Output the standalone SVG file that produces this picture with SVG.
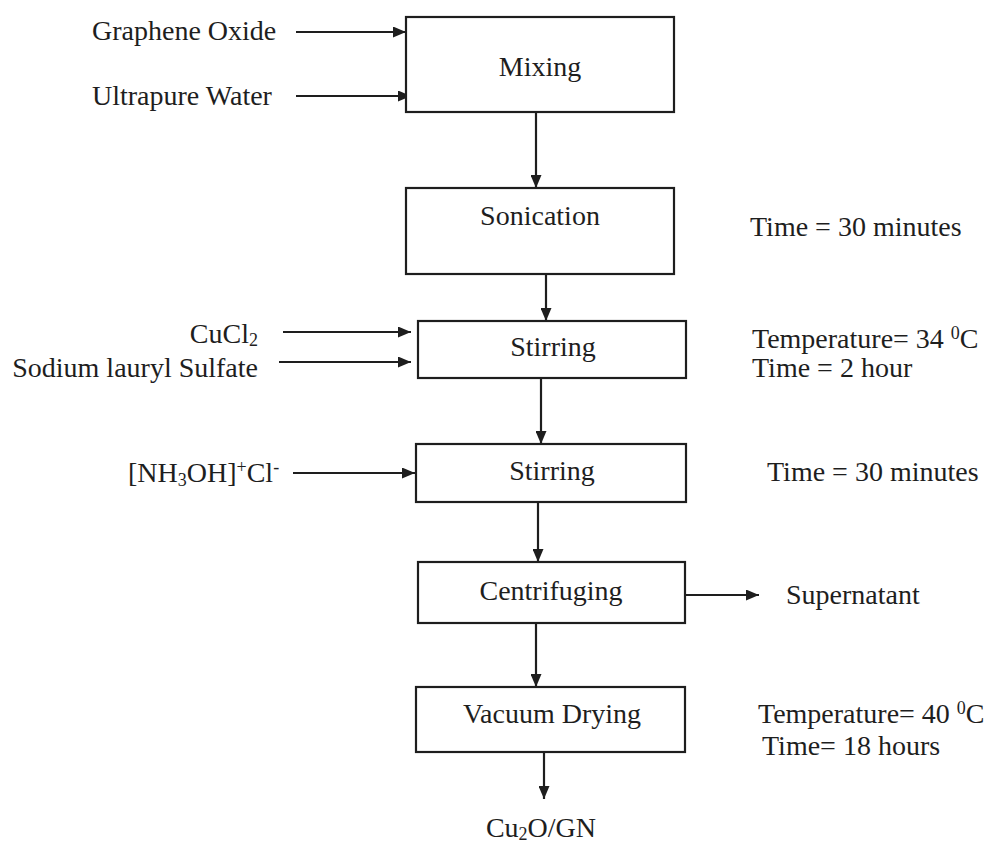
<svg xmlns="http://www.w3.org/2000/svg" width="984" height="846" viewBox="0 0 984 846">
<style>
text{font-family:"Liberation Serif","Times New Roman",serif;font-size:28px;fill:#1e1e1e}
.box{fill:#fff;stroke:#1e1e1e;stroke-width:2.2}
.c{text-anchor:middle}
.e{text-anchor:end}
.ln{stroke:#1e1e1e;stroke-width:2.2;fill:none;marker-end:url(#ah)}
</style>
<defs>
<marker id="ah" markerUnits="userSpaceOnUse" markerWidth="13" markerHeight="11" viewBox="0 0 13 11" refX="13" refY="5.5" orient="auto">
<path d="M0,0 L13,5.5 L0,11 z" fill="#1e1e1e"/>
</marker>
</defs>
<rect width="984" height="846" fill="#fff"/>
<g id="connectors">
<line class="ln" x1="296" y1="32" x2="406" y2="32"/>
<line class="ln" x1="296" y1="96" x2="411" y2="96"/>
<line class="ln" x1="536" y1="112" x2="536" y2="188"/>
<line class="ln" x1="546" y1="274" x2="546" y2="321"/>
<line class="ln" x1="283" y1="332" x2="411" y2="332"/>
<line class="ln" x1="279" y1="362" x2="411" y2="362"/>
<line class="ln" x1="541" y1="378" x2="541" y2="444"/>
<line class="ln" x1="293" y1="473" x2="415" y2="473"/>
<line class="ln" x1="538" y1="502" x2="538" y2="562"/>
<line class="ln" x1="685" y1="595" x2="759" y2="595"/>
<line class="ln" x1="536" y1="623" x2="536" y2="687"/>
<line class="ln" x1="544" y1="752" x2="544" y2="799"/>
</g>
<g id="mixing"><rect class="box" x="406" y="17" width="268" height="95"/><text class="c" x="540" y="76">Mixing</text></g>
<g id="sonication"><rect class="box" x="406" y="188" width="268" height="86"/><text class="c" x="540" y="225">Sonication</text></g>
<g id="stirring1"><rect class="box" x="418" y="321" width="268" height="57"/><text class="c" x="553" y="356">Stirring</text></g>
<g id="stirring2"><rect class="box" x="416" y="444" width="270" height="58"/><text class="c" x="552" y="480">Stirring</text></g>
<g id="centrifuging"><rect class="box" x="418" y="562" width="267" height="61"/><text class="c" x="551" y="600">Centrifuging</text></g>
<g id="vacuum-drying"><rect class="box" x="416" y="687" width="269" height="65"/><text class="c" x="552" y="723">Vacuum Drying</text></g>
<g id="graphene-oxide"><text x="92" y="40">Graphene Oxide</text></g>
<g id="ultrapure-water"><text x="92" y="105">Ultrapure Water</text></g>
<g id="cucl2"><text class="e" x="258" y="343">CuCl<tspan font-size="18" dy="3">2</tspan></text></g>
<g id="sds"><text class="e" x="258" y="377">Sodium lauryl Sulfate</text></g>
<g id="nh3oh"><text x="128" y="482">[NH<tspan font-size="18" dy="4">3</tspan><tspan dy="-4">OH]</tspan><tspan font-size="18" dy="-9">+</tspan><tspan dy="9">Cl</tspan><tspan font-size="18" dy="-9">-</tspan></text></g>
<g id="supernatant"><text x="786" y="604">Supernatant</text></g>
<g id="product"><text class="c" x="541" y="837">Cu<tspan font-size="18" dy="3">2</tspan><tspan dy="-3">O/GN</tspan></text></g>
<g id="conditions">
<text x="750" y="236">Time = 30 minutes</text>
<text x="752" y="348">Temperature= 34 <tspan font-size="18" dy="-9">0</tspan><tspan dy="9">C</tspan></text>
<text x="752" y="377">Time = 2 hour</text>
<text x="767" y="481">Time = 30 minutes</text>
<text x="758" y="723">Temperature= 40 <tspan font-size="18" dy="-9">0</tspan><tspan dy="9">C</tspan></text>
<text x="762" y="755">Time= 18 hours</text>
</g>
</svg>
